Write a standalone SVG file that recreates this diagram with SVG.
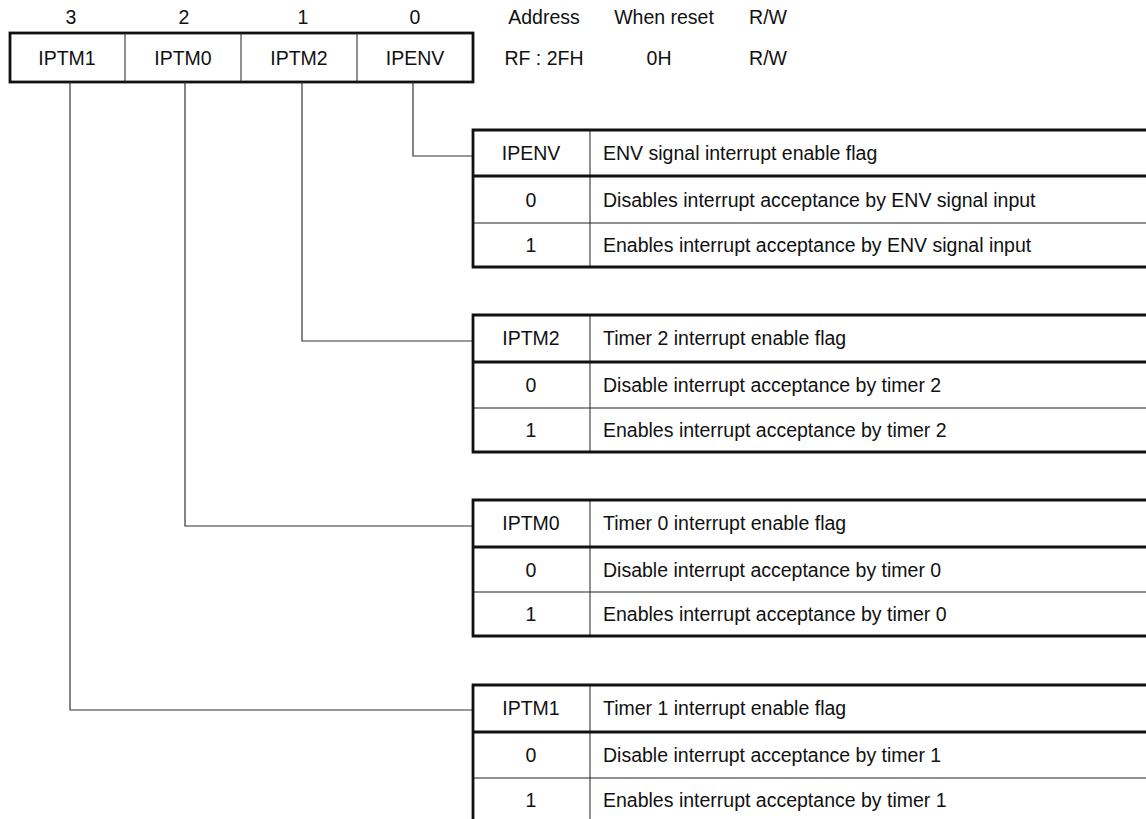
<svg xmlns="http://www.w3.org/2000/svg" width="1146" height="819" viewBox="0 0 1146 819">
<style>
text{font-family:"Liberation Sans",Arial,sans-serif;font-size:19.5px;fill:#111;dominant-baseline:central}
.c{text-anchor:middle}
.thick{stroke:#111;stroke-width:2.8;fill:none}
.thin{stroke:#222;stroke-width:1;fill:none}
.conn{stroke:#333;stroke-width:1.2;fill:none}
</style>
<rect width="1146" height="819" fill="#fff"/>
<g id="register">
<text class="c" x="71" y="17">3</text>
<text class="c" x="184" y="17">2</text>
<text class="c" x="303" y="17">1</text>
<text class="c" x="415" y="17">0</text>
<rect class="thick" x="10" y="33" width="463" height="49"/>
<line class="thin" x1="125" y1="33" x2="125" y2="82"/>
<line class="thin" x1="241" y1="33" x2="241" y2="82"/>
<line class="thin" x1="357" y1="33" x2="357" y2="82"/>
<text class="c" x="67" y="58">IPTM1</text>
<text class="c" x="183" y="58">IPTM0</text>
<text class="c" x="299" y="58">IPTM2</text>
<text class="c" x="415" y="58">IPENV</text>
</g>
<g id="info">
<text class="c" x="544" y="17">Address</text>
<text class="c" x="664" y="17">When reset</text>
<text class="c" x="768" y="17">R/W</text>
<text class="c" x="544" y="58">RF : 2FH</text>
<text class="c" x="659" y="58">0H</text>
<text class="c" x="768" y="58">R/W</text>
</g>
<g id="connectors">
<polyline class="conn" points="413,82 413,156 473,156"/>
<polyline class="conn" points="302,82 302,341 473,341"/>
<polyline class="conn" points="185,82 185,526 473,526"/>
<polyline class="conn" points="70,82 70,710 473,710"/>
</g>
<g id="table-ipenv">
<line class="thin" x1="590" y1="130" x2="590" y2="267"/>
<line class="thin" x1="473" y1="223" x2="1146" y2="223"/>
<line class="thick" x1="473" y1="176" x2="1146" y2="176"/>
<polyline class="thick" points="1146,130 473,130 473,267 1146,267"/>
<text class="c" x="531" y="153">IPENV</text>
<text x="603" y="153">ENV signal interrupt enable flag</text>
<text class="c" x="531" y="200">0</text>
<text x="603" y="200">Disables interrupt acceptance by ENV signal input</text>
<text class="c" x="531" y="245">1</text>
<text x="603" y="245">Enables interrupt acceptance by ENV signal input</text>
</g>
<g id="table-iptm2">
<line class="thin" x1="590" y1="315" x2="590" y2="452"/>
<line class="thin" x1="473" y1="408" x2="1146" y2="408"/>
<line class="thick" x1="473" y1="362" x2="1146" y2="362"/>
<polyline class="thick" points="1146,315 473,315 473,452 1146,452"/>
<text class="c" x="531" y="338">IPTM2</text>
<text x="603" y="338">Timer 2 interrupt enable flag</text>
<text class="c" x="531" y="385">0</text>
<text x="603" y="385">Disable interrupt acceptance by timer 2</text>
<text class="c" x="531" y="430">1</text>
<text x="603" y="430">Enables interrupt acceptance by timer 2</text>
</g>
<g id="table-iptm0">
<line class="thin" x1="590" y1="500" x2="590" y2="636"/>
<line class="thin" x1="473" y1="592" x2="1146" y2="592"/>
<line class="thick" x1="473" y1="547" x2="1146" y2="547"/>
<polyline class="thick" points="1146,500 473,500 473,636 1146,636"/>
<text class="c" x="531" y="523">IPTM0</text>
<text x="603" y="523">Timer 0 interrupt enable flag</text>
<text class="c" x="531" y="570">0</text>
<text x="603" y="570">Disable interrupt acceptance by timer 0</text>
<text class="c" x="531" y="614">1</text>
<text x="603" y="614">Enables interrupt acceptance by timer 0</text>
</g>
<g id="table-iptm1">
<line class="thin" x1="590" y1="685" x2="590" y2="819"/>
<line class="thin" x1="473" y1="778" x2="1146" y2="778"/>
<line class="thick" x1="473" y1="732" x2="1146" y2="732"/>
<polyline class="thick" points="1146,685 473,685 473,819"/>
<text class="c" x="531" y="708">IPTM1</text>
<text x="603" y="708">Timer 1 interrupt enable flag</text>
<text class="c" x="531" y="755">0</text>
<text x="603" y="755">Disable interrupt acceptance by timer 1</text>
<text class="c" x="531" y="800">1</text>
<text x="603" y="800">Enables interrupt acceptance by timer 1</text>
</g>
</svg>
